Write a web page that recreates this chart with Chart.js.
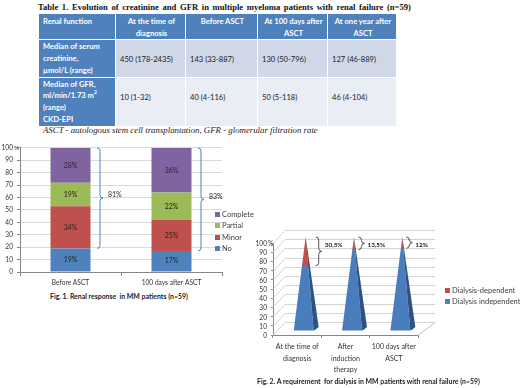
<!DOCTYPE html>
<html><head><meta charset="utf-8">
<script src="https://cdn.jsdelivr.net/npm/chart.js"></script>
<style>
html,body{margin:0;padding:0;background:#fff;}
body{width:520px;height:388px;position:relative;overflow:hidden;font-family:Lato,'Liberation Sans',sans-serif;}
.abs{position:absolute;white-space:nowrap;}
canvas{display:block;}
#title{left:38px;top:2px;font:bold 8.6px 'Liberation Serif','Times New Roman',serif;color:#111;word-spacing:1.5px;}
#tbl{position:absolute;left:38px;top:13px;width:358px;border-collapse:collapse;table-layout:fixed;}
#tbl td{border:1px solid #fff;padding:0 2px 0 4px;font-size:7.6px;line-height:11.7px;vertical-align:top;overflow:hidden;white-space:nowrap;color:#222;}
#tbl tr.h td{background:#4f81bd;color:#fff;font-weight:bold;text-align:center;padding-top:2px;}
#tbl tr.h td:first-child{text-align:left;}
#tbl td.lab{background:#4f81bd;color:#fff;font-weight:bold;padding-top:1px;}
#tbl tr.r1 td{background:#d0d8e8;}
#tbl tr.r2 td{background:#e9edf4;}
#tbl tr.r1 td.lab,#tbl tr.r2 td.lab{background:#4f81bd;}
#tbl td.val{padding-top:14px;}
sup{font-size:5px;line-height:0;vertical-align:4px;}
#note{left:43px;top:125px;font:italic 8.8px 'Liberation Serif','Times New Roman',serif;color:#222;}
.leg{font-size:7.5px;color:#404040;line-height:11.3px;}
.sq{display:inline-block;width:5px;height:5px;margin-right:2px;vertical-align:0px;}
.cap{font-weight:bold;font-size:6.9px;color:#222;}
.yl{position:absolute;right:253px;font-size:6.6px;line-height:8px;height:8px;color:#333;text-align:right;white-space:nowrap;z-index:10;}
.yl.pct{left:268px;right:auto;text-align:left;}
</style>
</head><body>
<div id="title" class="abs">Table 1. Evolution of creatinine and GFR in multiple myeloma patients with renal failure (n=59)</div>
<table id="tbl"></table>
<div id="note" class="abs">ASCT - autologous stem cell transplantation, GFR - glomerular filtration rate</div>

<div class="abs" style="left:0;top:140px;width:260px;height:150px;"><canvas id="c1" width="260" height="150"></canvas></div>
<div id="leg1" class="abs leg" style="left:215px;top:209px;"></div>
<div class="abs cap" style="left:50px;top:292px;">Fig. 1. Renal response&nbsp; in MM patients (n=59)</div>

<div class="abs" style="left:250px;top:228px;width:270px;height:152px;z-index:2;"><canvas id="c2" width="270" height="152"></canvas></div>
<div id="y2labels"></div>
<div id="leg2" class="abs leg" style="left:445px;top:285px;z-index:3;"></div>
<div class="abs cap" style="left:257px;top:377px;z-index:3;">Fig. 2. A requirement&nbsp; for dialysis in MM patients with renal failure (n=59)</div>

<script>
// ---------- Table data ----------
const tableHeader = [["Renal function"],["At the time of","diagnosis"],["Before ASCT"],["At 100 days after","ASCT"],["At one year after","ASCT"]];
const rowLabelCreatinine = ["Median of serum","creatinine,","\u00b5mol/L (range)"];
const rowLabelGfr = ["Median of GFR,","ml/min/1.73 m<sup>2</sup>","(range)","CKD-EPI"];
const creatinineValues = ["450 (178-2435)","143 (33-887)","130 (50-796)","127 (46-889)"];
const gfrValues = ["10 (1-32)","40 (4-116)","50 (5-118)","46 (4-104)"];
const colWidths = [77,70,72,70,69];
const rowHeights = [26,37,49];

// ---------- Fig. 1 data ----------
const fig1Categories = ["Before ASCT","100 days after ASCT"];
const fig1No = [19,17];
const fig1Minor = [34,25];
const fig1Partial = [19,22];
const fig1Complete = [28,36];
const fig1Improved = [81,83];
const fig1Ticks = [0,10,20,30,40,50,60,70,80,90,100];

// ---------- Fig. 2 data ----------
const fig2Categories = [["At the time of","diagnosis"],["After","induction","therapy"],["100 days after","ASCT"]];
const fig2Independent = [69.5,86.5,88];
const fig2Dependent = [30.5,13.5,12];
const fig2Ticks = [0,10,20,30,40,50,60,70,80,90,100];

// ---------- Build table ----------
(function(){
  const t = document.getElementById('tbl');
  let html = '<colgroup>' + colWidths.map(w=>'<col style="width:'+w+'px">').join('') + '</colgroup>';
  html += '<tr class="h" style="height:'+rowHeights[0]+'px">' + tableHeader.map(l=>'<td>'+l.join('<br>')+'</td>').join('') + '</tr>';
  html += '<tr class="r1" style="height:'+rowHeights[1]+'px"><td class="lab">'+rowLabelCreatinine.join('<br>')+'</td>' + creatinineValues.map(v=>'<td class="val">'+v+'</td>').join('') + '</tr>';
  html += '<tr class="r2" style="height:'+rowHeights[2]+'px"><td class="lab">'+rowLabelGfr.join('<br>')+'</td>' + gfrValues.map(v=>'<td class="val">'+v+'</td>').join('') + '</tr>';
  t.innerHTML = html;
})();

const FONT = "Lato, 'Liberation Sans', sans-serif";
Chart.defaults.font.family = FONT;
Chart.defaults.color = '#333';

const c1Colors = ['#4f81bd','#c0504d','#9bbb59','#8064a2'];
const c1Names = ['No','Minor','Partial','Complete'];

document.getElementById('leg1').innerHTML = [3,2,1,0].map(i=>'<div><span class="sq" style="background:'+c1Colors[i]+'"></span>'+c1Names[i]+'</div>').join('');
document.getElementById('leg2').innerHTML =
 '<div><span class="sq" style="background:#c0504d"></span>Dialysis-dependent</div>'+
 '<div><span class="sq" style="background:#4f81bd"></span>Dialysis independent</div>';

function brace(ctx, x, yt, yb){
  const ym = (yt+yb)/2, h=3;
  ctx.beginPath();
  ctx.moveTo(x-h, yt);
  ctx.quadraticCurveTo(x, yt, x, yt+h);
  ctx.lineTo(x, ym-h);
  ctx.quadraticCurveTo(x, ym, x+h, ym);
  ctx.quadraticCurveTo(x, ym, x, ym+h);
  ctx.lineTo(x, yb-h);
  ctx.quadraticCurveTo(x, yb, x-h, yb);
  ctx.stroke();
}

const fig1Plugin = {
  id:'fig1extras',
  afterDatasetsDraw(chart){
    const ctx = chart.ctx;
    ctx.save();
    ctx.font = '7px '+FONT;
    ctx.fillStyle = '#262626';
    ctx.textAlign='center'; ctx.textBaseline='middle';
    chart.data.datasets.forEach((ds,d)=>{
      chart.getDatasetMeta(d).data.forEach((el,i)=>{
        ctx.fillText(ds.data[i]+'%', el.x, (el.y+el.base)/2);
      });
    });
    const n = chart.data.labels.length;
    for(let i=0;i<n;i++){
      const bottom = chart.getDatasetMeta(0).data[i];
      const top = chart.getDatasetMeta(3).data[i];
      const x = bottom.x + bottom.width/2 + 9.5;
      ctx.strokeStyle = '#4f81bd'; ctx.lineWidth = 1;
      brace(ctx, x, top.y, bottom.y);
      ctx.fillStyle = '#262626';
      ctx.textAlign='left';
      ctx.fillText(fig1Improved[i]+'%', x+8, (top.y+bottom.y)/2 - 3);
    }
    ctx.restore();
  },
  afterDraw(chart){
    const ctx=chart.ctx, y=chart.scales.y;
    ctx.save(); ctx.font='6.5px '+FONT; ctx.fillStyle='#333'; ctx.textBaseline='middle'; ctx.textAlign='left';
    ctx.fillText('%', 14, y.getPixelForValue(100));
    ctx.restore();
  }
};

new Chart(document.getElementById('c1'), {
  type:'bar',
  data:{
    labels: fig1Categories,
    datasets:[
      {label:'No', data:fig1No, backgroundColor:c1Colors[0]},
      {label:'Minor', data:fig1Minor, backgroundColor:c1Colors[1]},
      {label:'Partial', data:fig1Partial, backgroundColor:c1Colors[2]},
      {label:'Complete', data:fig1Complete, backgroundColor:c1Colors[3]}
    ]
  },
  options:{
    responsive:false, animation:false, devicePixelRatio:1,
    layout:{padding:{top:7,right:38,left:0,bottom:0}},
    datasets:{bar:{categoryPercentage:1, barPercentage:0.396, borderWidth:0}},
    plugins:{legend:{display:false}, tooltip:{enabled:false}},
    scales:{
      x:{stacked:true,
         grid:{drawOnChartArea:false, tickLength:4, color:'#868686', offset:true},
         border:{color:'#868686'},
         ticks:{font:{size:6.6}, color:'#333', padding:3},
         afterFit:s=>{s.height=18;}},
      y:{stacked:true, min:0, max:100,
         afterBuildTicks:s=>{s.ticks = fig1Ticks.map(v=>({value:v}));},
         grid:{color:'#d9d9d9', tickLength:3, tickColor:'#868686'},
         border:{color:'#868686'},
         ticks:{font:{size:6.6}, color:'#333', padding:4, autoSkip:false},
         afterFit:s=>{s.width=20;}}
    }
  },
  plugins:[fig1Plugin]
});

const fig2Plugin = {
  id:'fig2pyr',
  beforeDatasetsDraw(chart){
    const ctx=chart.ctx, y=chart.scales.y, a=chart.chartArea;
    ctx.save();
    ctx.strokeStyle='#d4d4d4'; ctx.lineWidth=1;
    fig2Ticks.forEach(v=>{
      const yf = Math.round(y.getPixelForValue(v))+0.5;
      ctx.beginPath();
      ctx.moveTo(a.left, yf); ctx.lineTo(a.left+12, yf-13); ctx.lineTo(a.right+17, yf-13);
      ctx.stroke();
    });
    const y0 = Math.round(y.getPixelForValue(0))+0.5;
    ctx.strokeStyle='#bfbfbf';
    ctx.beginPath(); ctx.moveTo(a.right, y0); ctx.lineTo(a.right+17, y0-13); ctx.stroke();
    ctx.restore();
  },
  afterDatasetsDraw(chart){
    const ctx=chart.ctx, y=chart.scales.y;
    const yBase = y.getPixelForValue(0)-4, yApex = y.getPixelForValue(100)-6;
    const map = v => yBase + (yApex-yBase)*v/100;
    const faces = [['#4a7dbb','#2d5385'],['#c0504d','#8a2f2d']];
    const n = chart.data.labels.length;
    ctx.save();
    for(let i=0;i<n;i++){
      const c = chart.getDatasetMeta(0).data[i].x;
      const p = c + 8.5;
      chart.data.datasets.forEach((ds,d)=>{
        const el = chart.getDatasetMeta(d).data[i];
        const vt = y.getValueForPixel(el.y), vb = y.getValueForPixel(el.base);
        const yt = map(vt), yb = vb<=0.01 ? yBase+2 : map(vb);
        ctx.save();
        ctx.beginPath(); ctx.rect(p-20, yt-1, 40, yb-yt+1); ctx.clip();
        ctx.fillStyle = faces[d][0];
        ctx.beginPath(); ctx.moveTo(p-12,yBase); ctx.lineTo(p+8,yBase); ctx.lineTo(p,yApex); ctx.closePath(); ctx.fill();
        ctx.fillStyle = faces[d][1];
        ctx.beginPath(); ctx.moveTo(p+8,yBase); ctx.lineTo(p+13,yBase-4); ctx.lineTo(p,yApex); ctx.closePath(); ctx.fill();
        ctx.restore();
      });
      const dep = chart.data.datasets[1].data[i];
      const ind = chart.data.datasets[0].data[i];
      const bx = p + 3 + 33*dep/100;
      ctx.strokeStyle='#404040'; ctx.lineWidth=0.9;
      brace(ctx, bx, map(ind+dep), map(ind));
      ctx.fillStyle='#1a1a1a'; ctx.font='bold 6.4px '+FONT; ctx.textAlign='left'; ctx.textBaseline='middle';
      ctx.fillText(String(dep).replace('.',',')+'%', bx+6, map(ind+dep)+8);
    }
    ctx.restore();
  }
};

const ch2 = new Chart(document.getElementById('c2'), {
  type:'bar',
  data:{
    labels: fig2Categories,
    datasets:[
      {label:'Dialysis independent', data:fig2Independent, backgroundColor:'rgba(0,0,0,0)'},
      {label:'Dialysis-dependent', data:fig2Dependent, backgroundColor:'rgba(0,0,0,0)'}
    ]
  },
  options:{
    responsive:false, animation:false, devicePixelRatio:1,
    layout:{padding:{top:15,right:102,left:0,bottom:0}},
    datasets:{bar:{categoryPercentage:1, barPercentage:0.4, borderWidth:0}},
    plugins:{legend:{display:false}, tooltip:{enabled:false}},
    scales:{
      x:{stacked:true,
         grid:{drawOnChartArea:false, tickLength:3, color:'#868686', offset:true},
         border:{color:'#868686'},
         ticks:{font:{size:7, lineHeight:1.65}, color:'#333', padding:3, maxRotation:0, autoSkip:false},
         afterFit:s=>{s.height=45;}},
      y:{stacked:true, min:0, max:100,
         afterBuildTicks:s=>{s.ticks = fig2Ticks.map(v=>({value:v}));},
         grid:{drawOnChartArea:false, tickLength:2, tickColor:'#868686'},
         border:{color:'#868686'},
         ticks:{display:false, autoSkip:false},
         afterFit:s=>{s.width=23;}}
    }
  },
  plugins:[fig2Plugin]
});

// Fig. 2 y-axis tick labels placed from the chart's own y scale
(function(){
  const ys = ch2.scales.y;
  const top0 = 228;
  let html = fig2Ticks.map(v=>{
    const py = top0 + ys.getPixelForValue(v) - 4;
    return '<div class="yl" style="top:'+py.toFixed(1)+'px">'+v+'</div>';
  }).join('');
  html += '<div class="yl pct" style="top:'+(top0 + ys.getPixelForValue(100) - 4).toFixed(1)+'px">%</div>';
  document.getElementById('y2labels').innerHTML = html;
})();
</script>
</body></html>
